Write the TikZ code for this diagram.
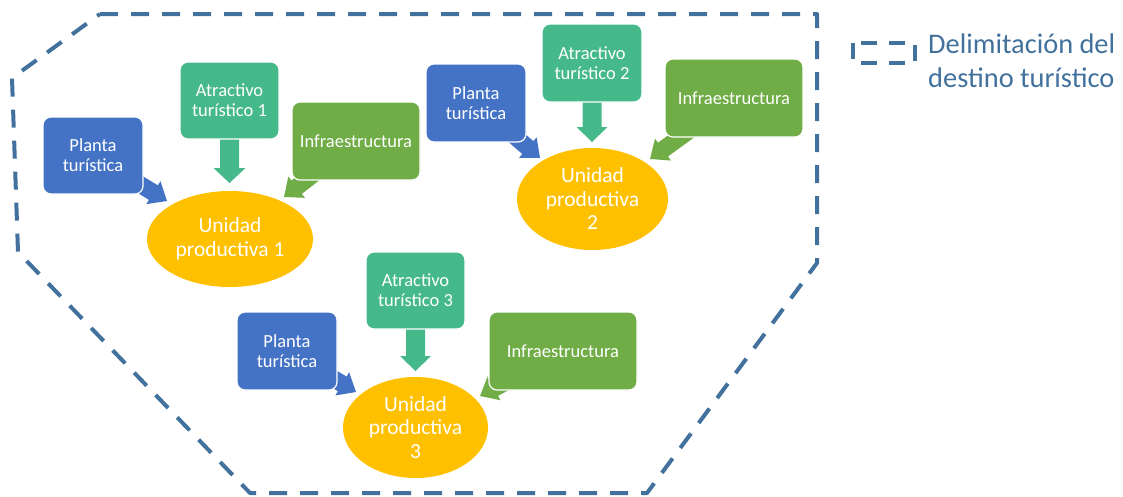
\documentclass[tikz,border=0pt]{standalone}
\usepackage{fontspec}
\setmainfont{Carlito}
\usetikzlibrary{shapes.geometric}
\pgfdeclarelayer{background}
\pgfsetlayers{background,main}
\definecolor{cblue}{HTML}{4472C4}
\definecolor{cteal}{HTML}{45B98A}
\definecolor{cgreen}{HTML}{70AD47}
\definecolor{cgold}{HTML}{FFC000}
\definecolor{cline}{HTML}{41719C}
% block arrow: color, tail node, tip coordinate, shaft half width, head half width, head length
\newcommand\blockarr[6]{%
  \pgfpointdiff{\pgfpointanchor{#2}{center}}{\pgfpointanchor{#3}{center}}%
  \pgfgetlastxy\BAdx\BAdy
  \pgfmathsetmacro\BAang{atan2(\BAdy,\BAdx)}%
  \pgfmathsetmacro\BAlen{veclen(\BAdx,\BAdy)}%
  \fill[#1, shift={(#3)}, rotate=\BAang] (0,0) -- (-#6,#5) -- (-#6,#4) -- (-\BAlen,#4)
    -- (-\BAlen,-#4) -- (-#6,-#4) -- (-#6,-#5) -- cycle;
}
\tikzset{
  box/.style={rectangle, rounded corners=8pt, draw=white, line width=1.2pt,
    text=white, align=center, inner sep=0pt,
    font={\fontsize{18.5}{20}\selectfont}},
  unit/.style={ellipse, fill=cgold, text=white, align=center, inner sep=0pt,
    font={\fontsize{21.5}{23.5}\selectfont}},
  boundary/.style={draw=cline, line width=4pt, dash pattern=on 18pt off 13pt, line join=round},
  legendtext/.style={text=cline, align=left, inner sep=0pt,
    font={\fontsize{28.4}{34}\selectfont}}
}
\begin{document}
\begin{tikzpicture}[x=1pt,y=-1pt]
\useasboundingbox (0,0) rectangle (1123,496);

% destination boundary
\draw[boundary] (100,14) -- (817,14) -- (817,263) -- (647,493) -- (250,493) -- (18,252) -- (12,78) -- cycle;

% legend
\draw[draw=cline, line width=4pt, dash pattern=on 16pt off 12pt] (853,43) rectangle (915,63);
\node[legendtext, anchor=base west] (leg) at (928,87) {Delimitación del\\destino turístico};

% group 1
\node[box, fill=cblue, minimum width=100pt, minimum height=77pt] (p1) at (93,155.5) {Planta\\turística};
\node[box, fill=cteal, minimum width=99pt, minimum height=77pt] (a1) at (229.5,100.5) {Atractivo\\turístico 1};
\node[box, fill=cgreen, minimum width=128pt, minimum height=78pt] (i1) at (356,141) {Infraestructura};
\node[unit, minimum width=166pt, minimum height=96pt] (e1) at (230,239) {Unidad\\productiva 1};

% group 2
\node[box, fill=cblue, minimum width=100pt, minimum height=78pt] (p2) at (476,103) {Planta\\turística};
\node[box, fill=cteal, minimum width=100pt, minimum height=78pt] (a2) at (592,63) {Atractivo\\turístico 2};
\node[box, fill=cgreen, minimum width=138pt, minimum height=78pt] (i2) at (734,98) {Infraestructura};
\node[unit, minimum width=151pt, minimum height=102pt] (e2) at (592.5,199) {Unidad\\productiva\\2};

% group 3
\node[box, fill=cblue, minimum width=100pt, minimum height=78pt] (p3) at (287,351) {Planta\\turística};
\node[box, fill=cteal, minimum width=99pt, minimum height=77pt] (a3) at (415.5,290.5) {Atractivo\\turístico 3};
\node[box, fill=cgreen, minimum width=148pt, minimum height=78pt] (i3) at (563,351) {Infraestructura};
\node[unit, minimum width=145pt, minimum height=101pt] (e3) at (415.5,427.5) {Unidad\\productiva\\3};

% arrow tips
\coordinate (tp1) at (167,201);
\coordinate (ta1) at (229.5,183);
\coordinate (ti1) at (284,197);
\coordinate (tp2) at (540,158);
\coordinate (ta2) at (592,142);
\coordinate (ti2) at (650,159);
\coordinate (tp3) at (356,392);
\coordinate (ta3) at (415.5,371);
\coordinate (ti3) at (480,396);

\begin{pgfonlayer}{background}
\blockarr{cblue}{p1}{tp1}{8.5}{13.5}{16}
\blockarr{cteal}{a1}{ta1}{9.5}{16}{15}
\blockarr{cgreen}{i1}{ti1}{8.5}{13.5}{16}
\blockarr{cblue}{p2}{tp2}{8.5}{13.5}{16}
\blockarr{cteal}{a2}{ta2}{9.5}{15.5}{15}
\blockarr{cgreen}{i2}{ti2}{8.5}{13.5}{16}
\blockarr{cblue}{p3}{tp3}{8.5}{13.5}{16}
\blockarr{cteal}{a3}{ta3}{9.5}{15.5}{15}
\blockarr{cgreen}{i3}{ti3}{8.5}{13.5}{16}
\end{pgfonlayer}
\end{tikzpicture}
\end{document}
